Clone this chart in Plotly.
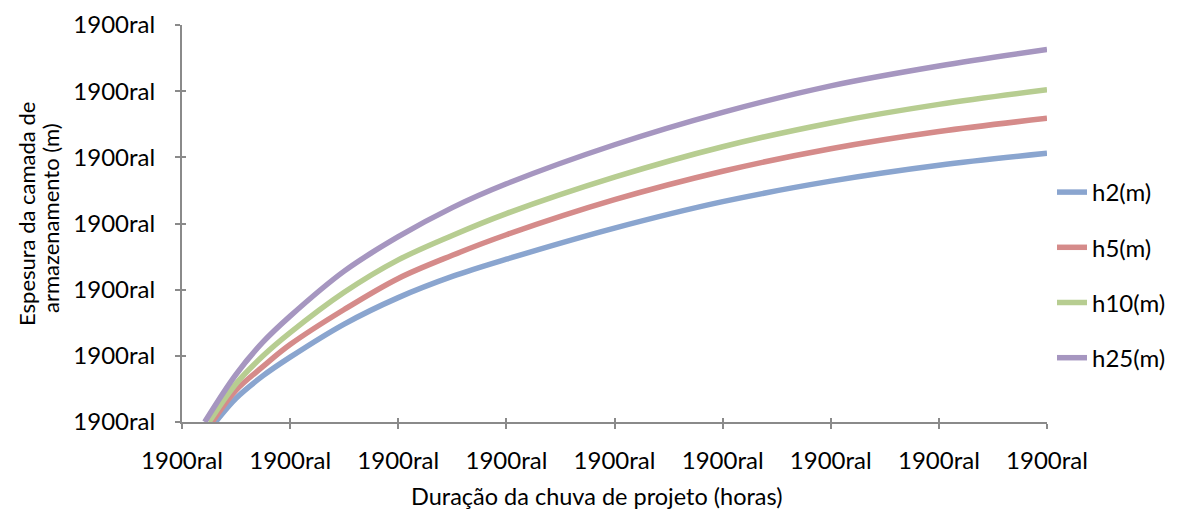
import plotly.graph_objects as go

# ---- data ----
x_tick_vals = [0, 1, 2, 3, 4, 5, 6, 7, 8]
x_tick_text = ["1900ral"] * 9
y_tick_vals = [0, 1, 2, 3, 4, 5, 6]
y_tick_text = ["1900ral"] * 7

x_title = "Duração da chuva de projeto (horas)"
y_title_lines = ["Espesura da camada de", "armazenamento (m)"]

h2_x = [0.31, 0.5, 0.75, 1, 1.5, 2, 2.5, 3, 4, 5, 6, 7, 8]
h2_y = [0.00, 0.36, 0.70, 0.98, 1.48, 1.88, 2.20, 2.46, 2.93, 3.33, 3.64, 3.88, 4.06]
h5_x = [0.28, 0.5, 0.75, 1, 1.5, 2, 2.5, 3, 4, 5, 6, 7, 8]
h5_y = [0.00, 0.48, 0.84, 1.17, 1.70, 2.17, 2.52, 2.83, 3.36, 3.79, 4.13, 4.39, 4.59]
h10_x = [0.25, 0.5, 0.75, 1, 1.5, 2, 2.5, 3, 4, 5, 6, 7, 8]
h10_y = [0.00, 0.58, 1.00, 1.35, 1.96, 2.45, 2.82, 3.15, 3.70, 4.16, 4.52, 4.80, 5.02]
h25_x = [0.21, 0.5, 0.75, 1, 1.5, 2, 2.5, 3, 4, 5, 6, 7, 8]
h25_y = [0.00, 0.72, 1.21, 1.60, 2.28, 2.80, 3.24, 3.60, 4.19, 4.68, 5.08, 5.38, 5.63]

series = [
    ("h2(m)", h2_x, h2_y, "#8aa5cf", "x", "y"),
    ("h5(m)", h5_x, h5_y, "#d58b8a", "x", "y"),
    ("h10(m)", h10_x, h10_y, "#b7cd91", "x", "y"),
    # last series lives on the overlay axes (same ranges) so their inner ticks are drawn
    ("h25(m)", h25_x, h25_y, "#a696c0", "x2", "y2"),
]

FONT = "Lato, 'Open Sans', sans-serif"
AXIS_COLOR = "#8a8a8a"

# plot area in pixels (for placing titles)
L, R, T, B = 182, 1047, 25, 422
def px_x(p):
    return (p - L) / (R - L)
def px_y(p):
    return (B - p) / (B - T)

fig = go.Figure()
for name, xs, ys, col, xa, ya in series:
    fig.add_trace(go.Scatter(
        x=xs, y=ys, name=name, mode="lines", xaxis=xa, yaxis=ya,
        line=dict(color=col, width=5.5, shape="spline", smoothing=1.0),
        legendgroup=name,
    ))

fig.add_annotation(text=x_title, xref="paper", yref="paper",
                   x=px_x(596), y=px_y(496), xanchor="center", yanchor="middle",
                   showarrow=False, font=dict(size=23.5, family=FONT, color="black"))
fig.add_annotation(text=y_title_lines[0], xref="paper", yref="paper",
                   x=px_x(26), y=px_y(214), xanchor="center", yanchor="middle",
                   textangle=-90, showarrow=False,
                   font=dict(size=22, family=FONT, color="black"))
fig.add_annotation(text=y_title_lines[1], xref="paper", yref="paper",
                   x=px_x(50), y=px_y(218), xanchor="center", yanchor="middle",
                   textangle=-90, showarrow=False,
                   font=dict(size=22, family=FONT, color="black"))

fig.update_layout(
    width=1177, height=511,
    margin=dict(l=L, r=1177 - R, t=T, b=511 - B, autoexpand=False),
    paper_bgcolor="white", plot_bgcolor="white",
    font=dict(family=FONT, color="black"),
    showlegend=True,
    legend=dict(
        x=px_x(1052), xanchor="left",
        y=px_y(170), yanchor="top",
        font=dict(size=24, family=FONT, color="black"),
        traceorder="grouped", tracegroupgap=21,
        bgcolor="rgba(0,0,0,0)",
    ),
    xaxis=dict(
        range=[0, 8], tickvals=x_tick_vals, ticktext=x_tick_text,
        showgrid=False, zeroline=False, automargin=False,
        showline=True, linecolor=AXIS_COLOR, linewidth=2,
        ticks="outside", ticklen=5, tickwidth=2, tickcolor=AXIS_COLOR,
        ticklabelstandoff=11,
        tickfont=dict(size=24, family=FONT, color="black"),
    ),
    yaxis=dict(
        range=[0, 6], tickvals=y_tick_vals, ticktext=y_tick_text,
        showgrid=False, zeroline=False, automargin=False,
        showline=True, linecolor=AXIS_COLOR, linewidth=2,
        ticks="outside", ticklen=5, tickwidth=2, tickcolor=AXIS_COLOR,
        ticklabelstandoff=15,
        tickfont=dict(size=24, family=FONT, color="black"),
    ),
    xaxis2=dict(
        overlaying="x", anchor="y2", side="bottom",
        range=[0, 8], tickvals=x_tick_vals, showticklabels=False,
        showgrid=False, zeroline=False, showline=False, automargin=False,
        ticks="inside", ticklen=4, tickwidth=2, tickcolor=AXIS_COLOR,
    ),
    yaxis2=dict(
        overlaying="y", anchor="x2", side="left",
        range=[0, 6], tickvals=y_tick_vals, showticklabels=False,
        showgrid=False, zeroline=False, showline=False, automargin=False,
        ticks="inside", ticklen=4, tickwidth=2, tickcolor=AXIS_COLOR,
    ),
)

fig.write_html("out.html")
